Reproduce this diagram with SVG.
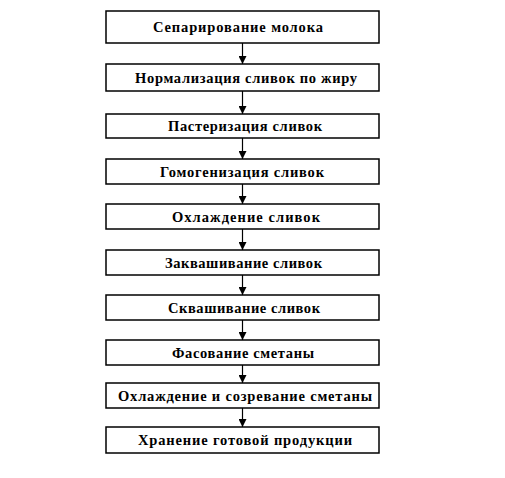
<svg xmlns="http://www.w3.org/2000/svg" width="505" height="478" viewBox="0 0 505 478">
<style>
.box{fill:#fff;stroke:#000;stroke-width:1.5}
.lbl{font-family:"Liberation Serif","Times New Roman",serif;font-weight:bold;font-size:14.5px;text-anchor:middle;fill:#000}
.conn{stroke:#000;stroke-width:1.2;fill:none}
</style>
<defs>
<marker id="ah" viewBox="0 0 8 8" refX="8" refY="4" markerWidth="8" markerHeight="8" markerUnits="userSpaceOnUse" orient="auto">
<path d="M0,0 L8,4 L0,8 Z" fill="#000"/>
</marker>
</defs>
<rect width="505" height="478" fill="#fff"/>
<g id="connectors">
<line class="conn" x1="242.5" y1="43" x2="242.5" y2="64" marker-end="url(#ah)"/>
<line class="conn" x1="242.5" y1="91" x2="242.5" y2="114" marker-end="url(#ah)"/>
<line class="conn" x1="242.5" y1="138" x2="242.5" y2="159" marker-end="url(#ah)"/>
<line class="conn" x1="242.5" y1="184" x2="242.5" y2="204" marker-end="url(#ah)"/>
<line class="conn" x1="242.5" y1="229" x2="242.5" y2="250" marker-end="url(#ah)"/>
<line class="conn" x1="242.5" y1="275" x2="242.5" y2="295" marker-end="url(#ah)"/>
<line class="conn" x1="242.5" y1="320" x2="242.5" y2="340" marker-end="url(#ah)"/>
<line class="conn" x1="242.5" y1="365" x2="242.5" y2="383" marker-end="url(#ah)"/>
<line class="conn" x1="242.5" y1="408" x2="242.5" y2="427" marker-end="url(#ah)"/>
</g>
<g id="n1"><rect class="box" x="106" y="11" width="273" height="32"/><text class="lbl" x="238" y="31.5" textLength="170" lengthAdjust="spacing">Сепарирование молока</text></g>
<g id="n2"><rect class="box" x="106" y="64" width="273" height="27"/><text class="lbl" x="246" y="82.5" textLength="222" lengthAdjust="spacing">Нормализация сливок по жиру</text></g>
<g id="n3"><rect class="box" x="106" y="114" width="273" height="24"/><text class="lbl" x="245" y="131" textLength="154" lengthAdjust="spacing">Пастеризация сливок</text></g>
<g id="n4"><rect class="box" x="106" y="159" width="273" height="25"/><text class="lbl" x="242" y="176.5" textLength="164" lengthAdjust="spacing">Гомогенизация сливок</text></g>
<g id="n5"><rect class="box" x="106" y="204" width="273" height="25"/><text class="lbl" x="246" y="221.5" textLength="148" lengthAdjust="spacing">Охлаждение сливок</text></g>
<g id="n6"><rect class="box" x="106" y="250" width="273" height="25"/><text class="lbl" x="243.5" y="267.5" textLength="157" lengthAdjust="spacing">Заквашивание сливок</text></g>
<g id="n7"><rect class="box" x="106" y="295" width="273" height="25"/><text class="lbl" x="244" y="312.5" textLength="152" lengthAdjust="spacing">Сквашивание сливок</text></g>
<g id="n8"><rect class="box" x="106" y="340" width="273" height="25"/><text class="lbl" x="243" y="357.5" textLength="142" lengthAdjust="spacing">Фасование сметаны</text></g>
<g id="n9"><rect class="box" x="106" y="383" width="273" height="25"/><text class="lbl" x="245" y="400.5" textLength="254" lengthAdjust="spacing">Охлаждение и созревание сметаны</text></g>
<g id="n10"><rect class="box" x="106" y="427" width="273" height="26"/><text class="lbl" x="245" y="445" textLength="214" lengthAdjust="spacing">Хранение готовой продукции</text></g>
</svg>
